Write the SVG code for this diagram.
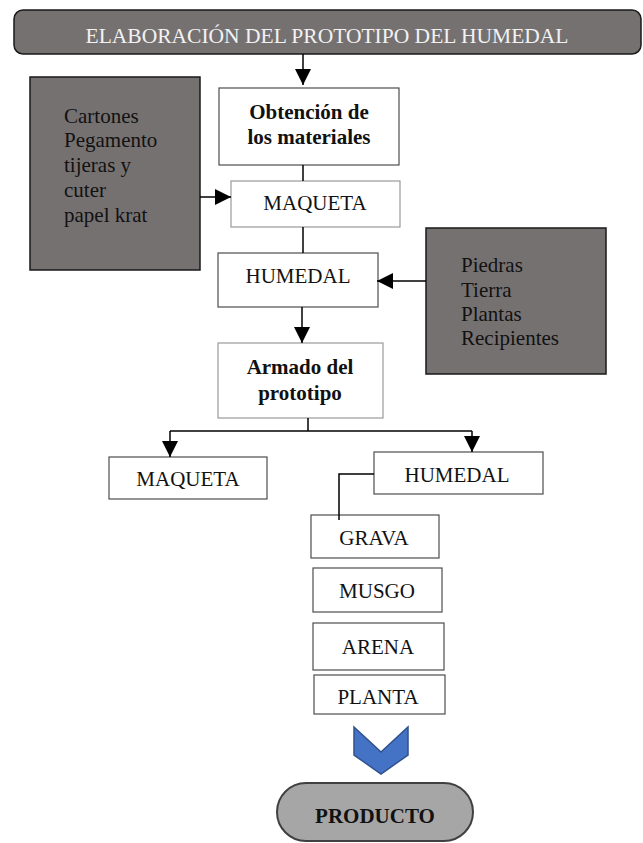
<svg xmlns="http://www.w3.org/2000/svg" width="643" height="843" viewBox="0 0 643 843">
<style>
text{font-family:"Liberation Serif","Times New Roman",serif;font-size:21px;fill:#111}
.b{font-weight:bold}
.c{text-anchor:middle}
.box{fill:#fff;stroke:#4d4d4d;stroke-width:1.2}
.lbox{fill:#fff;stroke:#9a9a9a;stroke-width:1.2}
.dark{fill:#767171;stroke:#1a1a1a;stroke-width:1.5}
.ln{fill:none;stroke:#000;stroke-width:1.5}
</style>
<defs>
<marker id="ah" viewBox="0 0 16 16" refX="16" refY="8" markerWidth="16" markerHeight="16" markerUnits="userSpaceOnUse" orient="auto">
<path d="M0,0 L16,8 L0,16 z" fill="#000"/>
</marker>
</defs>
<g id="title">
<rect x="14" y="10" width="627" height="44" rx="9" class="dark"/>
<text x="327" y="43" class="c" style="fill:#f2f2f2;font-size:21.5px">ELABORACIÓN DEL PROTOTIPO DEL HUMEDAL</text>
</g>
<g id="obtencion">
<rect x="219" y="88" width="180" height="77" class="box"/>
<text x="309" y="119" class="c b">Obtención de</text>
<text x="309" y="144" class="c b">los materiales</text>
</g>
<g id="materiales1">
<rect x="30" y="77" width="170" height="193" class="dark"/>
<text x="64" y="123">Cartones</text>
<text x="64" y="147">Pegamento</text>
<text x="64" y="172">tijeras y</text>
<text x="64" y="197">cuter</text>
<text x="64" y="222">papel krat</text>
</g>
<g id="maqueta1">
<rect x="231" y="181" width="169" height="46" class="lbox"/>
<text x="315" y="210" class="c">MAQUETA</text>
</g>
<g id="humedal1">
<rect x="218" y="253" width="160" height="54" class="box"/>
<text x="298" y="283" class="c">HUMEDAL</text>
</g>
<g id="materiales2">
<rect x="426" y="228" width="180" height="146" class="dark"/>
<text x="461" y="272">Piedras</text>
<text x="461" y="297">Tierra</text>
<text x="461" y="321">Plantas</text>
<text x="461" y="345">Recipientes</text>
</g>
<g id="armado">
<rect x="218" y="343" width="165" height="75" class="lbox"/>
<text x="300" y="374" class="c b">Armado del</text>
<text x="300" y="400" class="c b">prototipo</text>
</g>
<g id="maqueta2">
<rect x="109" y="457" width="158" height="42" class="box"/>
<text x="188" y="486" class="c">MAQUETA</text>
</g>
<g id="humedal2">
<rect x="374" y="452" width="169" height="42" class="box"/>
<text x="457" y="482" class="c">HUMEDAL</text>
</g>
<g id="grava">
<rect x="311" y="515" width="128" height="43" class="box"/>
<text x="374" y="545" class="c">GRAVA</text>
</g>
<g id="musgo">
<rect x="313" y="568" width="129" height="44" class="box"/>
<text x="377" y="598" class="c">MUSGO</text>
</g>
<g id="arena">
<rect x="313" y="623" width="131" height="47" class="box"/>
<text x="378" y="654" class="c">ARENA</text>
</g>
<g id="planta">
<rect x="314" y="675" width="131" height="39" class="box"/>
<text x="378" y="704" class="c">PLANTA</text>
</g>
<g id="chevron">
<path d="M354,727 L381,752 L408,727 L408,755 L381,774 L354,755 z" fill="#4472c4" stroke="#2f528f" stroke-width="1.5"/>
</g>
<g id="producto">
<rect x="277" y="783" width="196" height="58" rx="29" fill="#a6a6a6" stroke="#404040" stroke-width="2"/>
<text x="375" y="823" class="c b">PRODUCTO</text>
</g>
<g id="connectors">
<line x1="303" y1="54" x2="303" y2="85" class="ln" marker-end="url(#ah)"/>
<line x1="303" y1="165" x2="303" y2="181" class="ln"/>
<line x1="200" y1="197" x2="231" y2="197" class="ln" marker-end="url(#ah)"/>
<line x1="303" y1="227" x2="303" y2="253" class="ln"/>
<line x1="426" y1="281" x2="377" y2="281" class="ln" marker-end="url(#ah)"/>
<line x1="302" y1="307" x2="302" y2="343" class="ln" marker-end="url(#ah)"/>
<polyline points="308,418 308,431" class="ln"/>
<polyline points="170,431 472,431" class="ln"/>
<line x1="170" y1="431" x2="170" y2="457" class="ln" marker-end="url(#ah)"/>
<line x1="472" y1="431" x2="472" y2="452" class="ln" marker-end="url(#ah)"/>
<polyline points="374,474 339,474 339,520" class="ln"/>
</g>
</svg>
